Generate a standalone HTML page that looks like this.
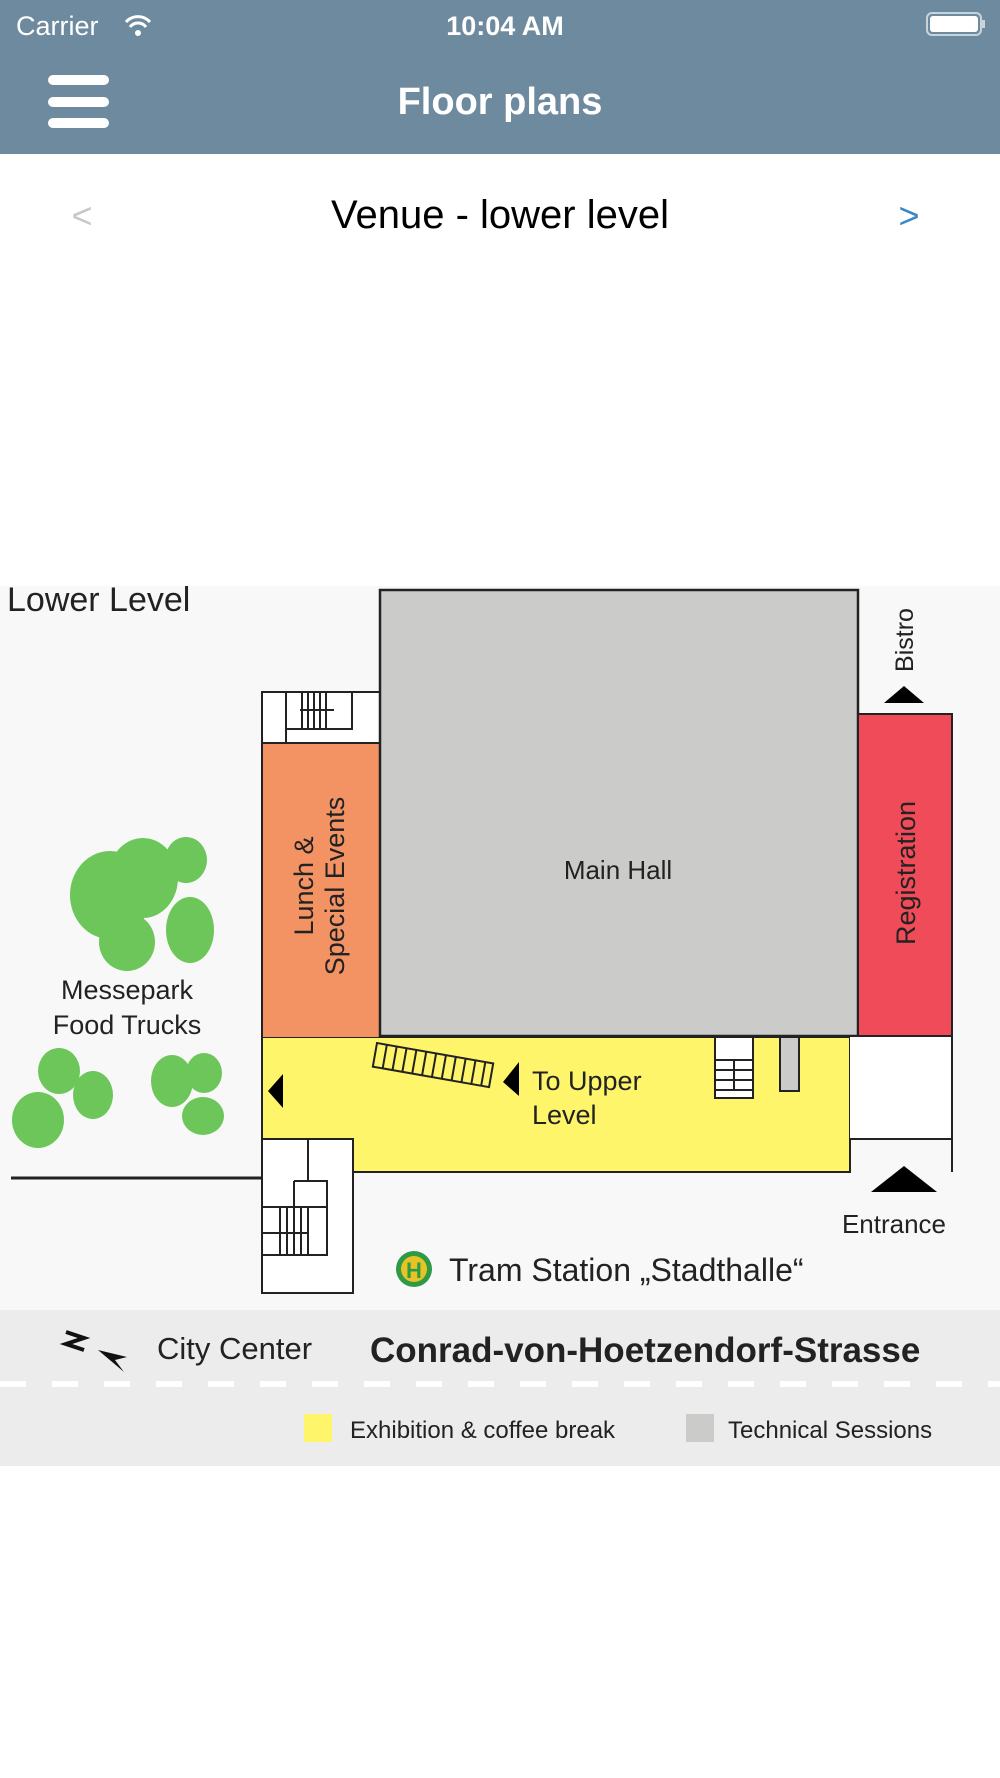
<!DOCTYPE html>
<html><head><meta charset="utf-8"><style>
html,body{margin:0;padding:0;width:1000px;height:1778px;overflow:hidden;background:#fff}
svg{display:block}
text{font-family:"Liberation Sans",sans-serif}
</style></head><body>
<svg width="1000" height="1778" viewBox="0 0 1000 1778" xmlns="http://www.w3.org/2000/svg">
<rect x="0" y="0" width="1000" height="154" fill="#6e8a9e"/>
<text x="16" y="35" font-size="27" fill="#fff">Carrier</text>
<path d="M126 22 a16 16 0 0 1 24 0 M130 27 a10 10 0 0 1 16 0" stroke="#fff" stroke-width="3" fill="none"/>
<circle cx="138" cy="33" r="3" fill="#fff"/>
<text x="505" y="35" font-size="27" font-weight="bold" fill="#fff" text-anchor="middle">10:04 AM</text>
<rect x="927" y="13" width="54" height="22" rx="5" fill="none" stroke="#c9d3da" stroke-width="2"/>
<rect x="930" y="16" width="48" height="16" rx="3" fill="#fff"/>
<rect x="982" y="20" width="3" height="8" fill="#c9d3da"/>
<rect x="48" y="75" width="61" height="10" rx="5" fill="#fff"/>
<rect x="48" y="97" width="61" height="10" rx="5" fill="#fff"/>
<rect x="48" y="118" width="61" height="10" rx="5" fill="#fff"/>
<text x="500" y="114" font-size="38" font-weight="bold" fill="#fff" text-anchor="middle">Floor plans</text>
<text x="82" y="228" font-size="36" fill="#c8c8c8" text-anchor="middle">&lt;</text>
<text x="500" y="228" font-size="40" fill="#000" text-anchor="middle">Venue - lower level</text>
<text x="909" y="228" font-size="36" fill="#3a87c8" text-anchor="middle">&gt;</text>

<rect x="0" y="586" width="1000" height="880" fill="#f8f8f8"/>
<rect x="0" y="1310" width="1000" height="156" fill="#ececec"/>
<line x1="0" y1="1384" x2="1000" y2="1384" stroke="#fff" stroke-width="6" stroke-dasharray="26,26"/>
<text x="7" y="611" font-size="34" fill="#222">Lower Level</text>

<g fill="#6cc65a">
<ellipse cx="110" cy="895" rx="40" ry="44"/><ellipse cx="143" cy="878" rx="35" ry="40"/>
<ellipse cx="186" cy="860" rx="21" ry="23"/><ellipse cx="127" cy="942" rx="28" ry="29"/>
<ellipse cx="190" cy="930" rx="24" ry="33"/>
<ellipse cx="59" cy="1071" rx="21" ry="23"/><ellipse cx="93" cy="1095" rx="20" ry="24"/>
<ellipse cx="38" cy="1120" rx="26" ry="28"/><ellipse cx="172" cy="1081" rx="21" ry="26"/>
<ellipse cx="204" cy="1073" rx="18" ry="20"/><ellipse cx="203" cy="1116" rx="21" ry="19"/>
</g>
<text x="127" y="999" font-size="27" fill="#222" text-anchor="middle">Messepark</text>
<text x="127" y="1034" font-size="27" fill="#222" text-anchor="middle">Food Trucks</text>
<line x1="11" y1="1178" x2="262" y2="1178" stroke="#222" stroke-width="3"/>

<path d="M262 1037 H850 V1172 H353 V1139 H262 Z" fill="#fef56b" stroke="#222" stroke-width="2"/>
<rect x="262" y="743" width="118" height="294" fill="#f39364"/>
<line x1="262" y1="743" x2="262" y2="1139" stroke="#222" stroke-width="2"/>
<rect x="262" y="692" width="118" height="51" fill="#fff" stroke="#222" stroke-width="2"/>
<g stroke="#222" stroke-width="2" fill="none">
<path d="M286 692 V729 H352 V692 M286 729 V743 H352"/>
<path d="M302 692 V729 M308 692 V729 M314 692 V729 M320 692 V729 M326 692 V729 M300 710 H334"/>
</g>
<rect x="380" y="590" width="478" height="446" fill="#cbccc9" stroke="#222" stroke-width="2.5"/>
<rect x="858" y="714" width="94" height="322" fill="#ef4b58" stroke="#222" stroke-width="2"/>
<rect x="850" y="1037" width="102" height="102" fill="#fff"/>
<path d="M850 1139 H952 M952 714 V1172" stroke="#222" stroke-width="2" fill="none"/>
<text x="618" y="879" font-size="26" fill="#222" text-anchor="middle">Main Hall</text>
<text transform="translate(915,873) rotate(-90)" font-size="27" fill="#222" text-anchor="middle">Registration</text>
<text transform="translate(913,640) rotate(-90)" font-size="25" fill="#222" text-anchor="middle">Bistro</text>
<path d="M884 703 L904 686 L924 703 Z" fill="#000"/>
<text transform="translate(313,886) rotate(-90)" font-size="27" fill="#222" text-anchor="middle">Lunch &amp;</text>
<text transform="translate(344,886) rotate(-90)" font-size="27" fill="#222" text-anchor="middle">Special Events</text>

<g transform="translate(377,1043) rotate(10)" stroke="#222" stroke-width="2" fill="none">
<rect x="0" y="0" width="118" height="24"/>
<path d="M10 0V24M20 0V24M30 0V24M40 0V24M50 0V24M60 0V24M70 0V24M80 0V24M90 0V24M100 0V24M110 0V24"/>
</g>
<path d="M519 1062 L503 1082 L519 1096 Z" fill="#000"/>
<text x="532" y="1090" font-size="27" fill="#222">To Upper</text>
<text x="532" y="1124" font-size="27" fill="#222">Level</text>
<path d="M283 1074 L268 1091 L283 1108 Z" fill="#000"/>
<rect x="715" y="1037" width="38" height="61" fill="#fff" stroke="#222" stroke-width="2"/>
<path d="M715 1060H753M715 1070H753M715 1080H753M715 1090H753M734 1060V1090" stroke="#222" stroke-width="2"/>
<rect x="780" y="1037" width="19" height="54" fill="#cbccc9" stroke="#222" stroke-width="2"/>

<rect x="262" y="1139" width="91" height="154" fill="#fff" stroke="#222" stroke-width="2"/>
<g stroke="#222" stroke-width="2" fill="none">
<path d="M308 1139 V1181 M294 1181 H327 V1255 H262 M262 1207 H327 M294 1181 V1207"/>
<path d="M280 1207V1255M287 1207V1255M294 1207V1255M301 1207V1255M308 1207V1255M262 1233H308"/>
</g>
<path d="M871 1192 L904 1166 L937 1192 Z" fill="#000"/>
<text x="894" y="1233" font-size="26" fill="#222" text-anchor="middle">Entrance</text>
<circle cx="414" cy="1269" r="18" fill="#2f9a46"/>
<circle cx="414" cy="1269" r="13" fill="#e7c326"/>
<text x="414" y="1278" font-size="22" font-weight="bold" fill="#2f9a46" text-anchor="middle">H</text>
<text x="449" y="1281" font-size="32" fill="#222">Tram Station „Stadthalle“</text>

<path d="M66 1332 L84 1338 L66 1344 L84 1350" stroke="#111" stroke-width="4" fill="none"/>
<path d="M98 1350 L127 1357 L115 1360 L124 1372 Z" fill="#111"/>
<text x="157" y="1359" font-size="31" fill="#222">City Center</text>
<text x="370" y="1362" font-size="35" font-weight="bold" fill="#222">Conrad-von-Hoetzendorf-Strasse</text>
<rect x="304" y="1414" width="28" height="28" fill="#fef56b"/>
<text x="350" y="1438" font-size="24" fill="#222">Exhibition &amp; coffee break</text>
<rect x="686" y="1414" width="28" height="28" fill="#cbccc9"/>
<text x="728" y="1438" font-size="24" fill="#222">Technical Sessions</text>
</svg>
</body></html>
